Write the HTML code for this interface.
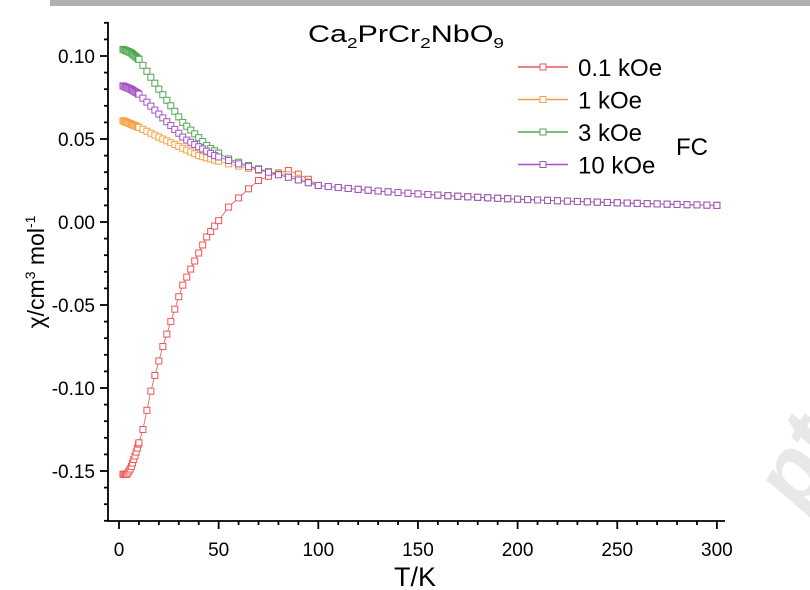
<!DOCTYPE html>
<html><head><meta charset="utf-8"><style>
body{margin:0;background:#fff;}
svg{display:block;font-family:"Liberation Sans",Arial,sans-serif;}
</style></head><body>
<svg id="s" width="810" height="590" viewBox="0 0 810 590" xmlns="http://www.w3.org/2000/svg">
<rect x="50" y="0" width="760" height="6" fill="#b0b0b0"/>
<text x="760" y="520" font-size="90" font-weight="bold" fill="#e8e8e8" transform="rotate(-60 775 480)" font-style="italic">pt</text>
<g id="ax" stroke="#000" stroke-width="1.8" fill="none"></g>
<g id="data"></g>
<g id="lab" font-size="19" fill="#000"></g>
<text x="308" y="42" font-size="24" textLength="196" lengthAdjust="spacingAndGlyphs">Ca<tspan font-size="15" dy="6">2</tspan><tspan dy="-6">PrCr</tspan><tspan font-size="15" dy="6">2</tspan><tspan dy="-6">NbO</tspan><tspan font-size="15" dy="6">9</tspan></text>
<text x="676" y="155" font-size="24">FC</text>
<text x="415" y="586" font-size="27" text-anchor="middle">T/K</text>
<text transform="translate(44 272) rotate(-90)" font-size="23" text-anchor="middle">χ/cm<tspan font-size="14" dy="-9">3</tspan><tspan dy="9"> mol</tspan><tspan font-size="14" dy="-9">-1</tspan></text>
</svg>
<script>
const NS="http://www.w3.org/2000/svg";
const px=T=>119+T*1.993, py=v=>222-v*1660;
function el(p,t,a,txt){const e=document.createElementNS(NS,t);for(const k in a)e.setAttribute(k,a[k]);if(txt!==undefined)e.textContent=txt;p.appendChild(e);return e;}
const ax=document.getElementById('ax'), lab=document.getElementById('lab'), data=document.getElementById('data');
el(ax,'path',{d:'M108 22 V521 H725'});
for(let T=0;T<=300;T+=10){const x=px(T);el(ax,'line',{x1:x,y1:521,x2:x,y2:T%50==0?529:525});}
for(let T=0;T<=300;T+=50){el(lab,'text',{x:px(T),y:556,'text-anchor':'middle'},String(T));}
for(let i=-18;i<=12;i++){const y=py(i/100);el(ax,'line',{x1:108,y1:y,x2:i%5==0?100:104,y2:y});}
[0.10,0.05,0.00,-0.05,-0.10,-0.15].forEach(v=>el(lab,'text',{x:95,y:py(v)+7,'text-anchor':'end'},v.toFixed(2)));
function interp(k,T){if(T<=k[0][0])return k[0][1];for(let i=1;i<k.length;i++){if(T<=k[i][0]){const a=k[i-1],b=k[i];return a[1]+(b[1]-a[1])*(T-a[0])/(b[0]-a[0]);}}return k[k.length-1][1];}
const para=T=>3.67/(T+66.7);
const Ts=[];for(let T=2;T<10;T+=0.6)Ts.push(T);for(let T=10;T<50;T+=2)Ts.push(T);for(let T=50;T<=300.1;T+=5)Ts.push(T);
const series=[
 {c:'#ee5555',k:[[2,-0.152],[4,-0.152],[6,-0.148],[8,-0.141],[10,-0.133],[12,-0.125],[16.5,-0.099],[22,-0.075],[31.6,-0.039],[44,-0.009],[55,0.009],[65,0.020],[70,0.025],[78,0.029],[85,0.031],[92,0.028],[100,0.022]]},
 {c:'#f5a040',k:[[2,0.061],[10,0.057],[22,0.050],[40,0.040],[55,0.035],[70,0.031],[85,0.0285],[100,0.022]]},
 {c:'#4fa84f',k:[[2,0.104],[6,0.102],[10,0.098],[20,0.080],[32,0.060],[45,0.045],[55,0.038],[70,0.032],[85,0.027],[100,0.022]]},
 {c:'#a452c4',k:[[2,0.082],[6,0.080],[10,0.077],[20,0.065],[33,0.050],[48,0.040],[60,0.035],[75,0.030],[88,0.026],[100,0.022]]}
];
series.forEach(s=>{const g=el(data,'g',{stroke:s.c,fill:'none','stroke-width':1});
 const pts=Ts.map(T=>[px(T),py(T<=100?interp(s.k,T):para(T))]);
 el(g,'polyline',{points:pts.map(p=>p.join(',')).join(' '),'stroke-width':0.8});
 pts.forEach(p=>el(g,'rect',{x:p[0]-3,y:p[1]-3,width:6,height:6,fill:'#fff'}));});
const L=['0.1 kOe','1 kOe','3 kOe','10 kOe'];
L.forEach((t,i)=>{const y=67+i*32.5,c=series[i].c;el(data,'line',{x1:518,y1:y,x2:568,y2:y,stroke:c,'stroke-width':1.5});
 el(data,'rect',{x:540,y:y-3,width:6,height:6,fill:'#fff',stroke:c});
 el(data,'text',{x:578,y:y+9,'font-size':24,fill:'#000'},t);});
</script>
</body></html>
